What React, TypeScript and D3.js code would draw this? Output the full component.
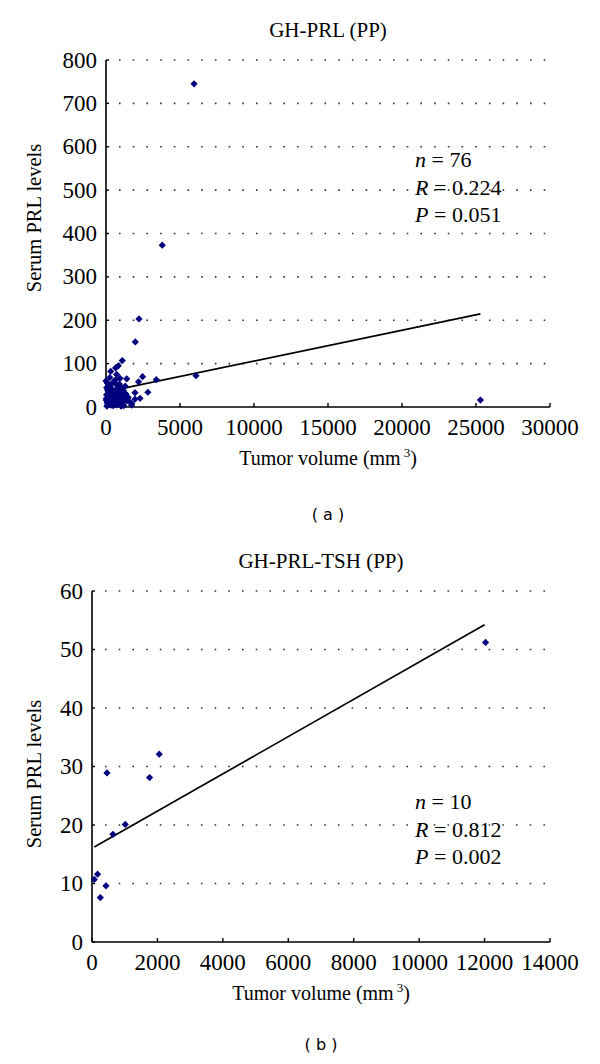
import React from "react";
import * as d3 from "d3";

// ---- Panel (a): GH-PRL (PP) ----
const volumeA = [5950, 3800, 2230, 1980, 6080, 25300, 3400, 2470, 2200, 1100, 830, 650, 320, 720, 950, 1400, 90, 720, 900, 1170, 1960, 2830, 270, 40, 1120, 2300, 540, 10, 830, 1400, 1740, 380, 1960, 1730,
  0, 50, 100, 150, 30, 80, 120, 200, 250, 300, 350, 400, 450, 500, 550, 600, 650, 700, 750, 800, 850, 900, 950, 1000, 1050, 1100, 1150, 1200, 1250, 1300, 1350, 1500, 1600, 180, 60, 420, 620, 260, 480, 1020, 160, 340];
const prlA = [745, 373, 203, 150, 72, 16, 63, 70, 58, 107, 95, 90, 82, 75, 66, 65, 55, 51, 53, 38, 33, 34, 32, 28, 25, 20, 22, 16, 12, 14, 8, 8, 18, 4,
  60, 45, 40, 35, 20, 10, 5, 25, 15, 45, 30, 18, 40, 10, 35, 28, 15, 5, 42, 30, 22, 8, 35, 18, 45, 10, 28, 3, 20, 48, 30, 22, 12, 52, 2, 55, 62, 68, 3, 2, 12, 4];
const fitA = { x0: 0, x1: 25300, intercept: 35, slope: 0.0071 };
const xTicksA = [0, 5000, 10000, 15000, 20000, 25000, 30000];
const yTicksA = [0, 100, 200, 300, 400, 500, 600, 700, 800];
const statsA = ["76", "0.224", "0.051"];

// ---- Panel (b): GH-PRL-TSH (PP) ----
const volumeB = [2055, 458, 1760, 1017, 640, 171, 70, 427, 253, 12030];
const prlB = [32.1, 28.9, 28.1, 20.1, 18.4, 11.6, 10.7, 9.6, 7.6, 51.2];
const fitB = { x0: 70, x1: 12000, intercept: 16.0, slope: 0.003185 };
const xTicksB = [0, 2000, 4000, 6000, 8000, 10000, 12000, 14000];
const yTicksB = [0, 10, 20, 30, 40, 50, 60];
const statsB = ["10", "0.812", "0.002"];

const FONT = "Liberation Serif";
const NAVY = "#00007f";

type PanelProps = {
  title: string;
  xs: number[];
  ys: number[];
  fit: { x0: number; x1: number; intercept: number; slope: number };
  xTicks: number[];
  yTicks: number[];
  stats: string[];
  left: number;
  right: number;
  top: number;
  bottom: number;
  titleY: number;
  statsX: number;
  statsY: number;
  letter: string;
  letterY: number;
  ylabelX: number;
  ylabelY: number;
};

function Panel(p: PanelProps) {
  const x = d3.scaleLinear().domain([p.xTicks[0], p.xTicks[p.xTicks.length - 1]]).range([p.left, p.right]);
  const y = d3.scaleLinear().domain([p.yTicks[0], p.yTicks[p.yTicks.length - 1]]).range([p.bottom, p.top]);
  const marker = d3.symbol().type(d3.symbolSquare).size(26)();
  const cx = (p.left + p.right) / 2;
  const line = d3.line<number>().x((v) => x(v)).y((v) => y(p.fit.intercept + p.fit.slope * v));
  return (
    <g fill="#000">
      <text x={cx} y={p.titleY} textAnchor="middle" fontSize={21} fontFamily={FONT}>{p.title}</text>
      {p.yTicks.slice(1).map((t) => (
        <line key={"g" + t} x1={p.left + 13} x2={p.right} y1={y(t)} y2={y(t)} stroke="#333" strokeWidth={1.6} strokeDasharray="1.6 12.1" />
      ))}
      <line x1={p.left} x2={p.left} y1={p.top} y2={p.bottom} stroke="#000" strokeWidth={1.6} />
      <line x1={p.left} x2={p.right} y1={p.bottom} y2={p.bottom} stroke="#000" strokeWidth={1.6} />
      {p.xTicks.map((t) => (
        <g key={"x" + t}>
          <line x1={x(t)} x2={x(t)} y1={p.bottom} y2={p.bottom - 4} stroke="#000" strokeWidth={1.4} />
          <text x={x(t)} y={p.bottom + 28} textAnchor="middle" fontSize={23} fontFamily={FONT}>{t}</text>
        </g>
      ))}
      {p.yTicks.map((t) => (
        <g key={"y" + t}>
          <line x1={p.left} x2={p.left + 3} y1={y(t)} y2={y(t)} stroke="#000" strokeWidth={1.4} />
          <text x={p.left - 9} y={y(t) + 7.5} textAnchor="end" fontSize={23} fontFamily={FONT}>{t}</text>
        </g>
      ))}
      <text transform={`translate(${p.ylabelX},${p.ylabelY}) rotate(-90)`} textAnchor="middle" fontSize={20.5} fontFamily={FONT}>Serum PRL levels</text>
      <text x={cx} y={p.bottom + 58} textAnchor="middle" fontSize={20} fontFamily={FONT}>
        Tumor volume (mm
        <tspan dx={3} dy={-8} fontSize={13}>3</tspan>
        <tspan dy={8}>)</tspan>
      </text>
      <path d={line([p.fit.x0, p.fit.x1]) || ""} fill="none" stroke="#000" strokeWidth={1.7} />
      {p.xs.map((v, i) => (
        <path key={"p" + i} d={marker} transform={`translate(${x(v)},${y(p.ys[i])}) rotate(45)`} fill={NAVY} />
      ))}
      <g fontSize={22} fontFamily={FONT}>
        <text x={p.statsX} y={p.statsY}><tspan fontStyle="italic">n</tspan> = {p.stats[0]}</text>
        <text x={p.statsX} y={p.statsY + 28}><tspan fontStyle="italic">R</tspan> = {p.stats[1]}</text>
        <text x={p.statsX} y={p.statsY + 55}><tspan fontStyle="italic">P</tspan> = {p.stats[2]}</text>
      </g>
      <text x={cx} y={p.letterY} textAnchor="middle" fontSize={16} fontFamily="DejaVu Sans">( {p.letter} )</text>
    </g>
  );
}

export default function App() {
  return (
    <svg width={600} height={1064} style={{ position: "absolute", left: 0, top: 0, background: "#fff" }}>
      <rect width={600} height={1064} fill="#fff" />
      <Panel title="GH-PRL (PP)" xs={volumeA} ys={prlA} fit={fitA} xTicks={xTicksA} yTicks={yTicksA} stats={statsA}
        left={106} right={550} top={60} bottom={407} titleY={37} statsX={415} statsY={167} letter="a" letterY={520} ylabelX={41} ylabelY={218} />
      <Panel title="GH-PRL-TSH (PP)" xs={volumeB} ys={prlB} fit={fitB} xTicks={xTicksB} yTicks={yTicksB} stats={statsB}
        left={92} right={550} top={591} bottom={942} titleY={568} statsX={415} statsY={809} letter="b" letterY={1050} ylabelX={41} ylabelY={774} />
    </svg>
  );
}
